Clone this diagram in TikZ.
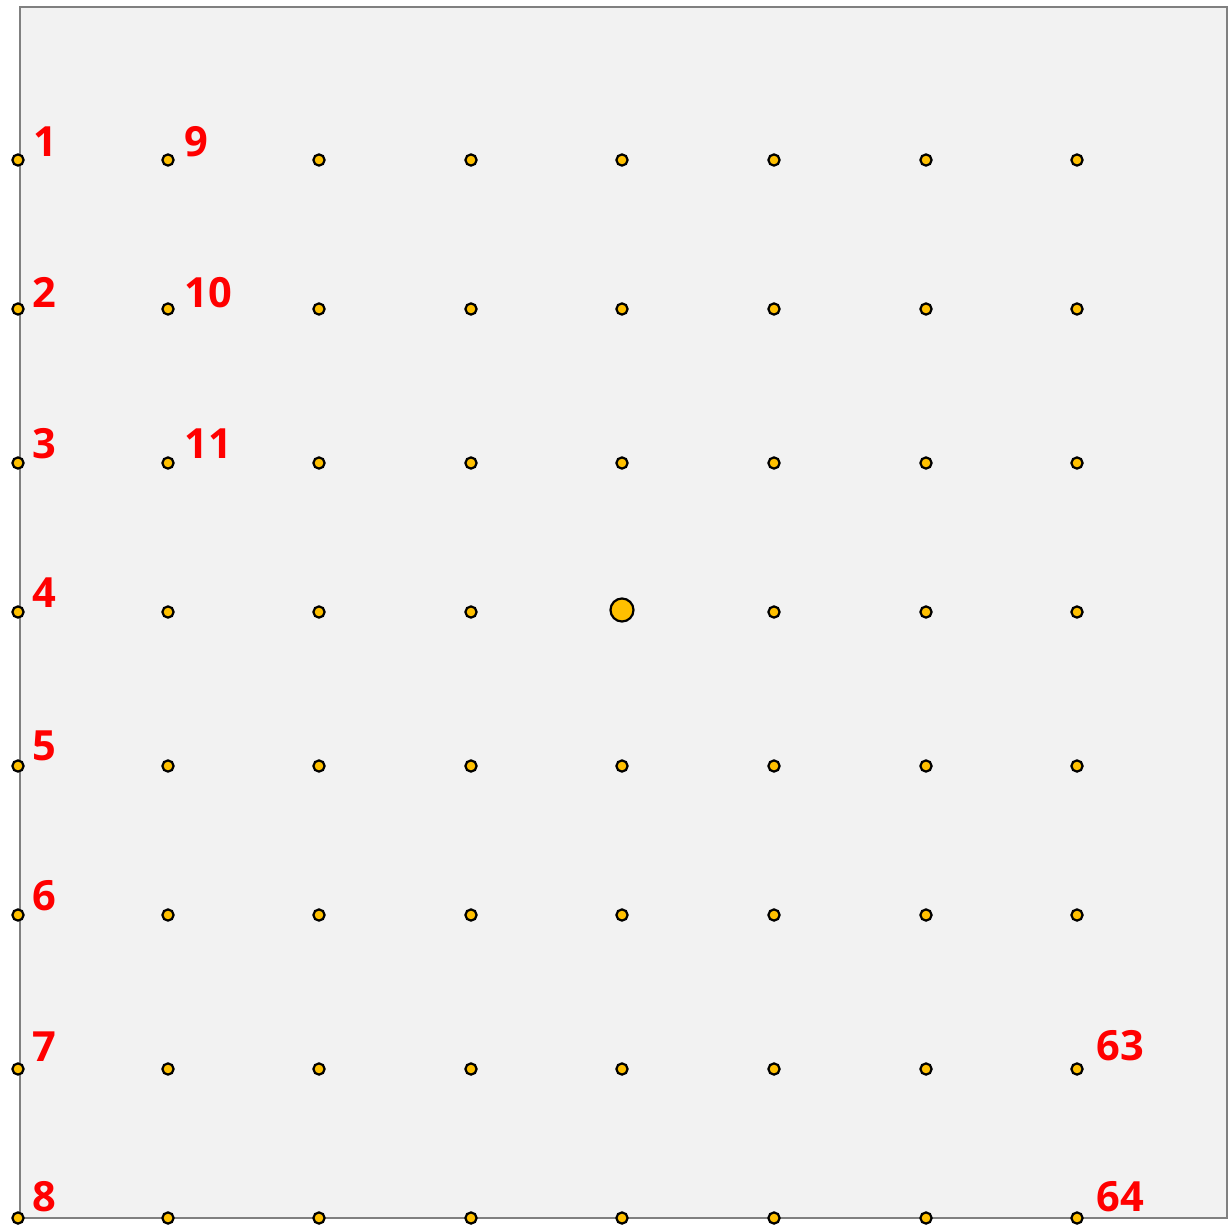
\documentclass[tikz,border=0pt]{standalone}
\usepackage{fontspec}
\usepackage{xcolor}
\usepackage{tikz}
\newfontfamily\labelfont{Open Sans}
\definecolor{dotfill}{RGB}{255,192,0}
\definecolor{panelgray}{RGB}{242,242,242}
\definecolor{framegray}{RGB}{128,128,128}

\begin{document}
\begin{tikzpicture}[x=0.5pt,y=-0.5pt,
    dot/.style={circle,draw=black,fill=dotfill,line width=1.1pt,inner sep=0pt,minimum size=5.6pt},
    bigdot/.style={dot,minimum size=11.5pt},
    num/.style={text=red,font=\labelfont\bfseries\fontsize{20.8}{22}\selectfont,anchor=base west,inner sep=0pt}]
        \useasboundingbox (0,0) rectangle (1230,1226);
        % Panel
        \draw[fill=panelgray,draw=framegray,line width=1.1pt] (20,7) rectangle (1227,1218);
        % Dots, numbered down each column
        \foreach \x [count=\c] in {18,168,319,471,622,774,926,1077}
          \foreach \y [count=\r] in {160,309,463,612,766,915,1069,1218} {
            \pgfmathtruncatemacro{\n}{(\c-1)*8+\r}
            \ifnum\n=36
              \node[bigdot] (d\n) at (\x,610) {};
            \else
              \node[dot] (d\n) at (\x,\y) {};
            \fi
          }
        % First column
        \node[num] (l1) at ([shift={(15,-4)}]d1) {1};
        \node[num] (l2) at ([shift={(14,-2)}]d2) {2};
        \node[num] (l3) at ([shift={(14,-5)}]d3) {3};
        \node[num] (l4) at ([shift={(14,-5)}]d4) {4};
        \node[num] (l5) at ([shift={(14,-6)}]d5) {5};
        \node[num] (l6) at ([shift={(14,-5)}]d6) {6};
        \node[num] (l7) at ([shift={(14,-8)}]d7) {7};
        \node[num] (l8) at ([shift={(14,-7)}]d8) {8};
        % Second column
        \node[num] (l9) at ([shift={(16,-4)}]d9) {9};
        \node[num] (l10) at ([shift={(16,-2)}]d10) {10};
        \node[num] (l11) at ([shift={(16,-5)}]d11) {11};
        % Last column
        \node[num] (l63) at ([shift={(19,-9)}]d63) {63};
        \node[num] (l64) at ([shift={(19,-7)}]d64) {64};
    \end{tikzpicture}
\end{document}
